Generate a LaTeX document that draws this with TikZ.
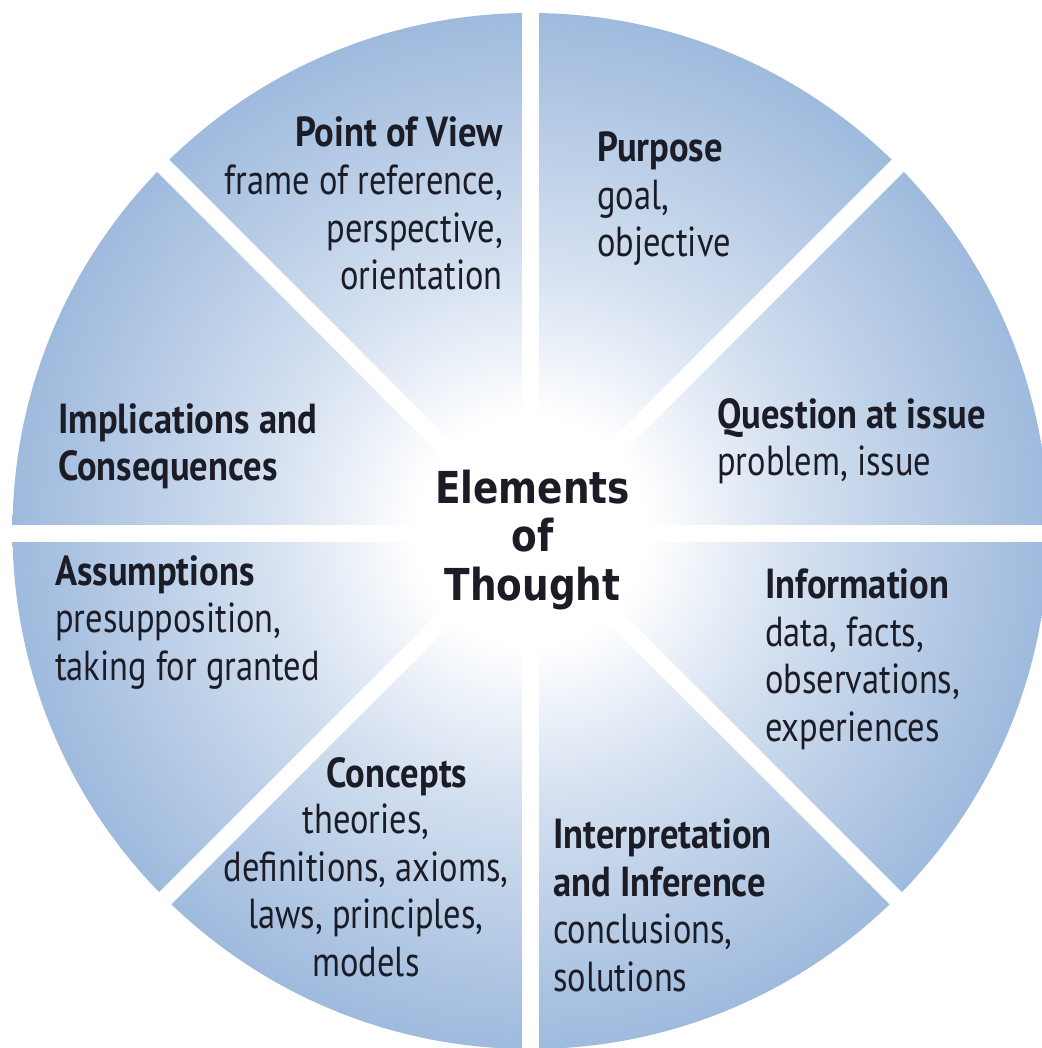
\documentclass[tikz,border=0pt]{standalone}
\usepackage{fontspec}
\usetikzlibrary{calc}
\setmainfont{PT Sans}[FakeStretch=0.82]
\newfontfamily\ttlfont{PT Sans}[FakeStretch=0.87]
\newfontfamily\ctrfont{DejaVu Sans}[FakeStretch=0.85]
\definecolor{edgeblue}{RGB}{158,186,221}
\definecolor{midblue}{RGB}{212,224,240}
\definecolor{inkc}{RGB}{28,28,38}
\pgfdeclareradialshading{discshade}{\pgfpoint{0bp}{0bp}}{color(0bp)=(white); color(5.5bp)=(white); color(13bp)=(midblue); color(25bp)=(edgeblue); color(50bp)=(edgeblue)}
\newcommand{\ttl}[1]{{\ttlfont\bfseries #1}}
\tikzset{
  gap/.style={white, line width=17pt},
  lbl/.style={inner sep=0pt, text=inkc, font=\fontsize{42}{47.5}\selectfont},
  ctr/.style={inner sep=0pt, text=inkc, align=center, font=\ctrfont\bfseries\fontsize{44}{48.5}\selectfont}
}
\begin{document}
\begin{tikzpicture}[x=1pt,y=-1pt]
\useasboundingbox (0,0) rectangle (1041,1048);
\fill[white] (0,0) rectangle (1041,1048);
\coordinate (C) at (530.5,531);
\coordinate (G) at (530.5,533);
\shade[shading=discshade] (C) circle (518);
\draw[gap] ($(G)+(0,-540)$) coordinate (g1) -- ($(G)+(0,540)$) coordinate (g2);
\draw[gap] ($(G)+(-540,0)$) coordinate (g3) -- ($(G)+(540,0)$) coordinate (g4);
\draw[gap] ($(G)+(-382,-382)$) coordinate (g5) -- ($(G)+(382,382)$) coordinate (g6);
\draw[gap] ($(G)+(-382,382)$) coordinate (g7) -- ($(G)+(382,-382)$) coordinate (g8);

\node[ctr, anchor=base] (center) at (532.5,600) {Elements\\of\\Thought};

\node[lbl, align=right, anchor=base east] (pov) at (503,289.5)
  {\ttl{Point of View}\\frame of reference,\\perspective,\\orientation};
\node[lbl, align=left, anchor=base west] (purpose) at (597,257)
  {\ttl{Purpose}\\goal,\\objective};
\node[lbl, align=left, anchor=base west] (question) at (717,475.5)
  {\ttl{Question at issue}\\problem, issue};
\node[lbl, align=left, anchor=base west] (info) at (765,741)
  {\ttl{Information}\\data, facts,\\observations,\\experiences};
\node[lbl, align=left, anchor=base west] (interp) at (553,991)
  {\ttl{Interpretation}\\\ttl{and Inference}\\conclusions,\\solutions};
\node[lbl, anchor=base] (conctitle) at (397,787) {\ttl{Concepts}};
\node[lbl, align=center, anchor=base] (concepts) at (366,976)
  {theories,\\definitions, axioms,\\laws, principles,\\models};
\node[lbl, align=left, anchor=base west] (assump) at (55,680)
  {\ttl{Assumptions}\\presupposition,\\taking for granted};
\node[lbl, align=left, anchor=base west] (implic) at (58,480.5)
  {\ttl{Implications and}\\\ttl{Consequences}};
\end{tikzpicture}
\end{document}
